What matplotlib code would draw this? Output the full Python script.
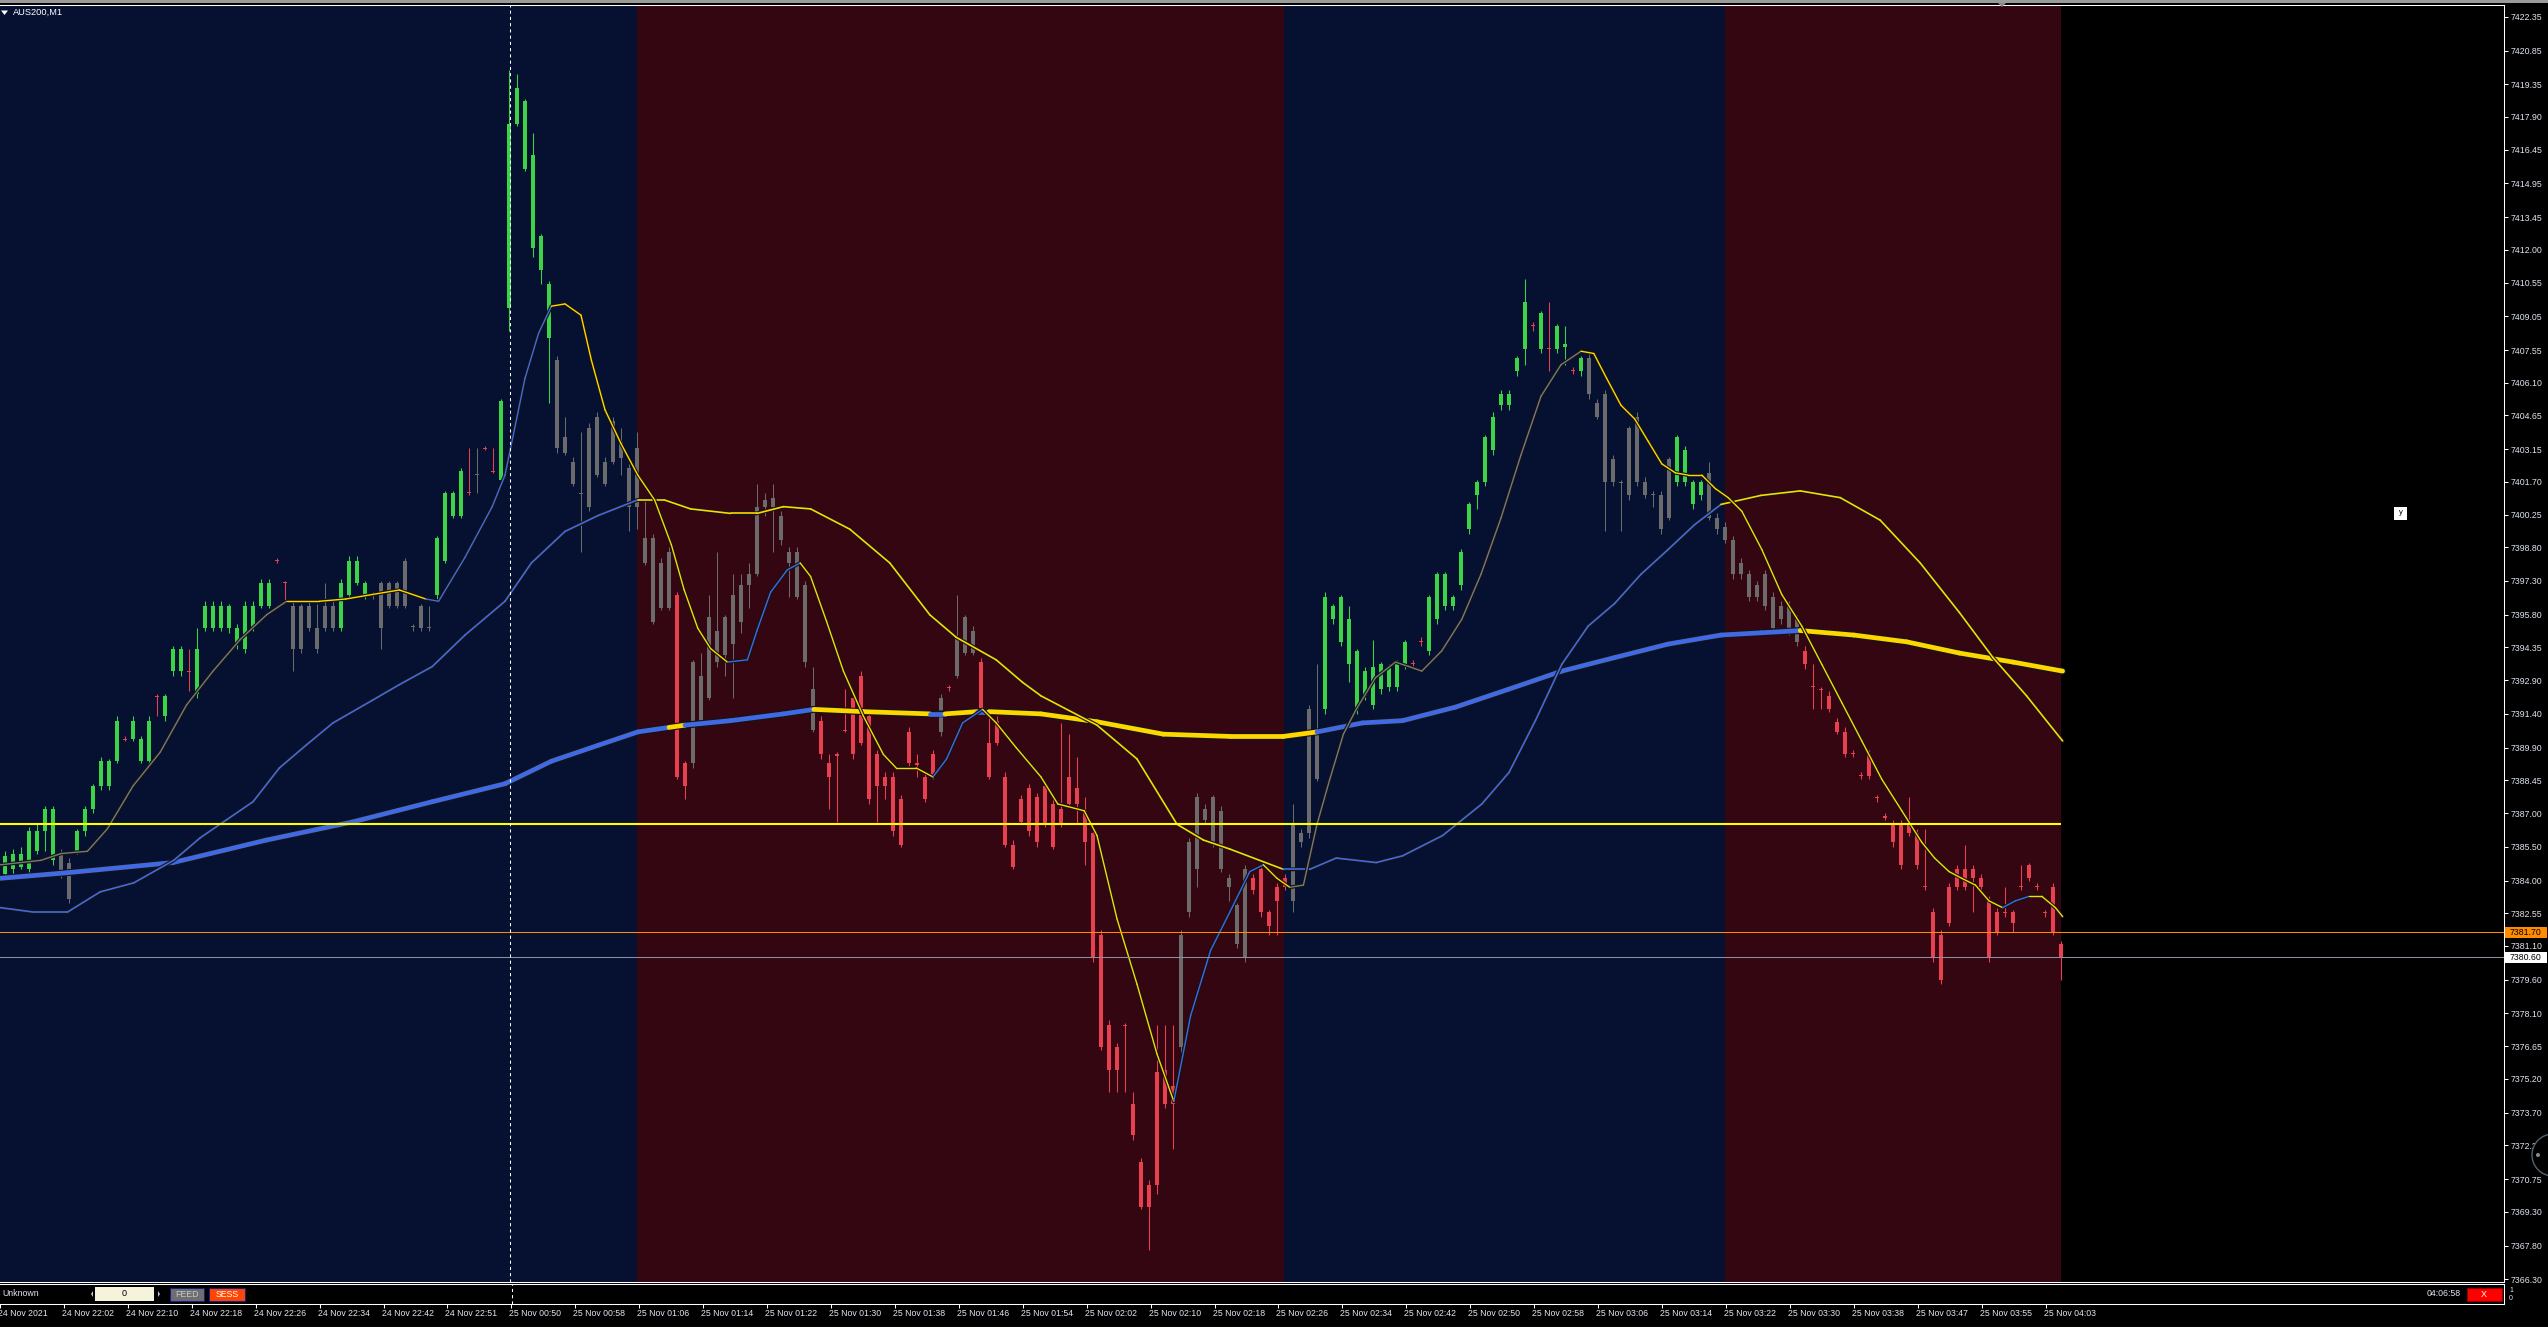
import numpy as np
import matplotlib
matplotlib.use("Agg")
import matplotlib.pyplot as plt
from matplotlib import transforms
from matplotlib.collections import LineCollection
from matplotlib.lines import Line2D
from matplotlib.patches import Rectangle, Polygon, Ellipse

plt.rcParams['font.family'] = ['Liberation Sans', 'DejaVu Sans']

# ---- AUS200 M1 candles (one per minute) ----
opens = [
    7384.4, 7384.3, 7384.5, 7384.6, 7384.5, 7385.3, 7386.2, 7384.9, 7385.2, 7384.8,
    7385.3, 7386.2, 7387.2, 7388.2, 7388.2, 7389.3, 7390.3, 7390.3, 7389.3, 7389.3,
    7392.2, 7391.3, 7393.3, 7393.3, 7393.3, 7392.3, 7395.2, 7395.2, 7395.2, 7395.2,
    7394.5, 7394.3, 7395.2, 7396.2, 7396.2, 7398.25, 7397.25, 7396.2, 7394.3, 7396.2,
    7395.2, 7395.2, 7396.2, 7395.2, 7396.7, 7397.2, 7396.7, 7396.7, 7397.2, 7396.2,
    7397.2, 7396.2, 7395.3, 7396.2, 7395.25, 7396.7, 7398.2, 7400.2, 7400.2, 7401.25,
    7402.05, 7403.2, 7402.2, 7401.8, 7409.4, 7417.6, 7415.6, 7412.1, 7411.1, 7408.1,
    7407.1, 7403.7, 7402.6, 7401.2, 7400.6, 7404.6, 7402.6, 7402.6, 7403.45, 7402.3,
    7400.6, 7399.2, 7399.2, 7398.1, 7396.1, 7396.7, 7389.2, 7389.2, 7393.1, 7392.1,
    7395.1, 7394.0, 7394.5, 7397.1, 7397.1, 7397.6, 7400.9, 7400.6, 7400.2, 7398.6,
    7398.6, 7397.1, 7392.5, 7391.1, 7389.2, 7389.6, 7390.7, 7392.1, 7393.1, 7391.3,
    7389.6, 7388.6, 7388.6, 7387.6, 7390.6, 7389.2, 7388.6, 7389.6, 7390.6, 7392.6,
    7393.1, 7394.1, 7395.1, 7393.7, 7390.1, 7391.1, 7388.6, 7385.6, 7387.6, 7388.1,
    7387.7, 7388.2, 7387.4, 7387.2, 7388.6, 7388.1, 7387.1, 7386.1, 7381.6, 7377.6,
    7376.6, 7377.6, 7374.1, 7371.5, 7370.5, 7370.5, 7375.6, 7374.9, 7376.6, 7382.6,
    7384.5, 7387.2, 7387.7, 7387.1, 7384.1, 7382.9, 7380.6, 7384.1, 7384.5, 7382.6,
    7383.7, 7384.1, 7383.1, 7386.1, 7386.1, 7390.5, 7391.6, 7395.6, 7394.6, 7393.6,
    7391.6, 7392.2, 7391.8, 7392.5, 7392.6, 7392.6, 7393.6, 7393.65, 7394.65, 7394.2,
    7395.6, 7396.2, 7396.2, 7397.1, 7399.6, 7401.1, 7401.7, 7403.1, 7405.1, 7405.1,
    7406.6, 7407.6, 7408.65, 7407.6, 7407.65, 7407.6, 7407.7, 7406.65, 7406.6, 7407.2,
    7405.2, 7405.6, 7402.7, 7401.7, 7401.1, 7404.6, 7401.7, 7401.15, 7401.1, 7400.1,
    7401.7, 7401.7, 7400.7, 7401.1, 7402.1, 7400.1, 7399.7, 7399.1, 7398.1, 7397.6,
    7397.1, 7397.6, 7396.6, 7396.2, 7396.2, 7395.6, 7394.2, 7392.65, 7392.5, 7392.2,
    7391.05, 7390.6, 7389.65, 7388.7, 7389.6, 7387.7, 7386.85, 7386.5, 7386.5, 7386.5,
    7386.1, 7383.75, 7382.6, 7381.6, 7383.7, 7384.5, 7384.5, 7384.5, 7384.1, 7383.1,
    7382.6, 7382.6, 7382.6, 7383.75, 7384.1, 7383.75, 7382.6, 7383.7, 7381.2]
highs = [
    7385.2, 7385.3, 7385.4, 7385.5, 7386.4, 7386.5, 7387.3, 7387.3, 7385.4, 7385.0,
    7386.3, 7387.3, 7388.3, 7389.5, 7389.4, 7391.3, 7390.4, 7391.3, 7390.4, 7391.3,
    7392.3, 7392.3, 7394.4, 7394.4, 7394.3, 7395.2, 7396.4, 7396.4, 7396.4, 7396.3,
    7395.4, 7396.4, 7396.4, 7397.4, 7397.4, 7398.3, 7397.3, 7396.4, 7396.3, 7396.4,
    7396.3, 7397.2, 7396.4, 7397.4, 7398.4, 7398.4, 7397.3, 7396.8, 7397.3, 7397.3,
    7397.3, 7398.3, 7395.4, 7396.3, 7396.2, 7399.3, 7401.3, 7401.3, 7402.3, 7403.2,
    7403.2, 7403.3, 7403.2, 7405.4, 7420.0, 7419.8, 7418.7, 7417.2, 7412.7, 7410.6,
    7407.3, 7404.6, 7402.8, 7403.9, 7404.3, 7404.8, 7402.8, 7404.6, 7404.1, 7402.5,
    7403.9, 7400.9, 7399.4, 7398.3, 7398.8, 7396.8, 7389.3, 7393.8, 7394.1, 7396.7,
    7398.6, 7395.8, 7397.6, 7397.6, 7398.1, 7401.6, 7401.2, 7401.6, 7400.4, 7398.8,
    7398.8, 7397.3, 7393.5, 7391.3, 7389.6, 7389.7, 7392.5, 7392.3, 7393.3, 7391.5,
    7389.8, 7388.8, 7388.8, 7387.8, 7390.8, 7389.6, 7388.8, 7389.8, 7392.3, 7392.7,
    7396.7, 7395.8, 7395.3, 7393.9, 7391.3, 7391.3, 7388.8, 7385.8, 7387.8, 7388.3,
    7387.9, 7388.4, 7387.6, 7391.0, 7390.5, 7389.5, 7387.7, 7386.3, 7381.8, 7377.8,
    7376.8, 7377.7, 7374.6, 7371.7, 7370.7, 7377.6, 7377.6, 7377.6, 7381.8, 7385.9,
    7387.9, 7387.4, 7387.8, 7387.3, 7384.3, 7383.0, 7384.7, 7384.3, 7384.7, 7382.7,
    7383.9, 7384.3, 7387.4, 7386.3, 7391.8, 7393.6, 7396.8, 7396.3, 7396.7, 7396.2,
    7394.3, 7393.5, 7394.7, 7393.7, 7393.6, 7393.8, 7394.7, 7393.8, 7394.8, 7396.7,
    7397.7, 7397.7, 7396.7, 7398.7, 7400.8, 7401.8, 7403.8, 7404.8, 7405.8, 7405.8,
    7407.3, 7410.7, 7408.8, 7409.3, 7409.7, 7408.7, 7408.6, 7406.8, 7407.3, 7407.4,
    7405.4, 7405.8, 7402.9, 7401.8, 7404.2, 7404.8, 7401.9, 7401.3, 7401.3, 7402.8,
    7403.8, 7403.3, 7401.8, 7401.8, 7402.6, 7400.3, 7399.9, 7399.3, 7398.3, 7397.8,
    7397.3, 7397.8, 7396.8, 7396.4, 7396.4, 7395.8, 7394.4, 7393.6, 7392.6, 7392.4,
    7391.2, 7390.8, 7389.8, 7388.8, 7389.8, 7387.8, 7387.0, 7386.7, 7386.7, 7387.7,
    7386.3, 7386.3, 7382.8, 7381.8, 7383.9, 7384.7, 7385.6, 7384.7, 7384.3, 7383.3,
    7382.8, 7383.7, 7382.7, 7384.7, 7384.8, 7383.9, 7382.7, 7383.9, 7381.3]
lows = [
    7384.2, 7384.2, 7384.3, 7384.5, 7384.3, 7385.2, 7385.3, 7384.7, 7384.1, 7383.0,
    7385.2, 7386.0, 7387.0, 7388.0, 7388.0, 7389.2, 7390.2, 7390.2, 7389.2, 7389.1,
    7391.3, 7391.1, 7393.1, 7393.1, 7392.4, 7392.1, 7395.1, 7395.1, 7395.1, 7395.0,
    7394.3, 7394.1, 7395.1, 7396.1, 7396.1, 7398.1, 7396.4, 7393.3, 7394.1, 7395.1,
    7394.1, 7395.1, 7395.1, 7395.1, 7396.5, 7397.1, 7396.5, 7396.5, 7394.3, 7396.1,
    7396.1, 7396.1, 7395.1, 7395.1, 7395.1, 7396.5, 7398.1, 7400.1, 7400.1, 7401.1,
    7401.2, 7403.1, 7402.1, 7401.6, 7408.4, 7417.5, 7415.5, 7411.7, 7410.5, 7405.2,
    7403.0, 7402.9, 7401.5, 7398.6, 7400.4, 7401.9, 7401.5, 7402.5, 7402.0, 7399.5,
    7399.6, 7398.0, 7395.4, 7396.0, 7396.0, 7388.5, 7387.6, 7389.0, 7391.0, 7392.0,
    7393.5, 7393.1, 7392.1, 7395.0, 7396.1, 7397.5, 7400.2, 7398.6, 7398.9, 7396.6,
    7396.5, 7393.5, 7390.6, 7389.4, 7387.2, 7386.6, 7390.6, 7389.4, 7390.0, 7387.4,
    7386.6, 7387.6, 7386.0, 7385.5, 7389.0, 7388.6, 7387.5, 7388.5, 7390.4, 7392.4,
    7393.0, 7394.0, 7394.0, 7391.4, 7388.5, 7390.0, 7385.5, 7384.5, 7386.5, 7386.0,
    7385.5, 7386.4, 7385.4, 7386.4, 7387.3, 7386.5, 7384.7, 7380.4, 7376.5, 7374.6,
    7374.6, 7374.6, 7372.5, 7369.4, 7367.6, 7370.1, 7373.9, 7372.1, 7376.4, 7382.4,
    7383.7, 7386.5, 7385.5, 7384.4, 7383.1, 7381.0, 7380.4, 7383.4, 7382.4, 7381.6,
    7381.6, 7383.6, 7382.6, 7385.5, 7385.9, 7388.4, 7391.4, 7395.4, 7394.4, 7392.8,
    7391.4, 7392.0, 7391.6, 7392.3, 7392.4, 7392.4, 7393.4, 7393.4, 7394.4, 7394.0,
    7395.4, 7396.0, 7396.0, 7396.9, 7399.4, 7400.5, 7401.5, 7402.9, 7404.9, 7404.9,
    7406.4, 7406.9, 7408.4, 7407.4, 7406.6, 7407.4, 7406.9, 7406.5, 7406.4, 7405.4,
    7404.5, 7399.5, 7401.5, 7399.5, 7400.9, 7401.5, 7401.0, 7400.6, 7399.4, 7400.0,
    7401.5, 7401.5, 7400.5, 7400.9, 7400.0, 7399.4, 7399.0, 7397.4, 7397.4, 7396.4,
    7396.4, 7396.0, 7395.0, 7395.4, 7394.9, 7394.4, 7393.4, 7391.6, 7391.6, 7391.5,
    7390.5, 7389.5, 7389.5, 7388.5, 7388.5, 7387.5, 7386.7, 7385.5, 7384.5, 7386.0,
    7384.5, 7383.6, 7380.4, 7379.4, 7382.0, 7383.6, 7383.6, 7382.6, 7383.6, 7380.4,
    7381.6, 7382.4, 7381.7, 7383.6, 7384.0, 7383.6, 7382.4, 7381.6, 7379.6]
closes = [
    7385.0, 7385.1, 7385.2, 7385.2, 7386.2, 7386.2, 7387.2, 7387.2, 7384.3, 7383.2,
    7386.2, 7387.2, 7388.2, 7389.3, 7389.3, 7391.1, 7390.25, 7391.1, 7390.3, 7391.1,
    7392.15, 7392.2, 7394.3, 7394.3, 7393.25, 7394.3, 7396.2, 7396.2, 7396.2, 7396.2,
    7395.2, 7396.2, 7396.2, 7397.2, 7397.2, 7398.2, 7397.2, 7394.3, 7396.2, 7395.2,
    7394.3, 7396.2, 7395.2, 7397.2, 7398.2, 7398.2, 7397.2, 7396.65, 7395.2, 7397.2,
    7396.2, 7398.2, 7395.25, 7395.2, 7395.2, 7399.2, 7401.2, 7401.2, 7402.2, 7401.2,
    7402.0, 7403.15, 7402.15, 7405.3, 7417.6, 7419.2, 7418.6, 7416.2, 7412.6, 7410.5,
    7403.2, 7403.0, 7401.6, 7401.15, 7404.1, 7402.0, 7401.6, 7404.4, 7402.75, 7400.6,
    7403.2, 7398.1, 7395.5, 7396.1, 7398.6, 7388.6, 7388.2, 7393.7, 7391.1, 7395.7,
    7393.7, 7395.7, 7396.7, 7395.5, 7397.6, 7400.6, 7400.6, 7401.0, 7399.1, 7398.1,
    7396.6, 7393.7, 7390.7, 7389.6, 7388.6, 7389.55, 7390.65, 7389.6, 7390.1, 7387.6,
    7388.2, 7388.2, 7386.2, 7385.6, 7389.2, 7389.15, 7387.6, 7388.6, 7392.1, 7392.55,
    7394.8, 7395.7, 7394.1, 7391.6, 7388.6, 7390.1, 7385.6, 7384.6, 7386.6, 7386.2,
    7385.7, 7386.5, 7385.5, 7386.5, 7387.4, 7387.4, 7385.7, 7380.6, 7376.6, 7375.6,
    7375.6, 7377.55, 7372.7, 7369.5, 7369.5, 7375.5, 7374.1, 7374.1, 7381.6, 7385.7,
    7387.7, 7386.7, 7385.7, 7384.5, 7383.7, 7381.2, 7384.5, 7383.6, 7382.6, 7382.0,
    7383.1, 7383.7, 7386.5, 7385.7, 7391.6, 7388.5, 7396.6, 7396.2, 7396.6, 7395.6,
    7394.2, 7393.3, 7393.5, 7393.6, 7393.5, 7393.6, 7394.6, 7393.6, 7394.6, 7396.6,
    7397.6, 7397.6, 7396.6, 7398.6, 7400.7, 7401.7, 7403.7, 7404.6, 7405.6, 7405.6,
    7407.2, 7409.7, 7408.6, 7409.2, 7407.6, 7408.6, 7407.8, 7406.6, 7407.2, 7405.6,
    7404.6, 7401.7, 7401.7, 7401.65, 7404.1, 7401.7, 7401.1, 7401.1, 7399.6, 7402.7,
    7403.7, 7403.1, 7401.7, 7401.7, 7400.1, 7399.6, 7399.1, 7397.6, 7397.6, 7396.6,
    7396.6, 7396.2, 7395.2, 7395.6, 7395.0, 7394.6, 7393.6, 7392.6, 7392.45, 7391.6,
    7390.6, 7389.6, 7389.6, 7388.65, 7388.65, 7387.65, 7386.8, 7385.7, 7384.7, 7386.1,
    7384.7, 7383.7, 7380.6, 7379.6, 7382.1, 7383.7, 7383.7, 7384.1, 7383.7, 7380.6,
    7381.7, 7382.55, 7382.1, 7383.7, 7384.7, 7383.7, 7382.55, 7381.7, 7380.6]

# candle colour state: g = bull filter, r = bear filter, n = neutral
candle_color_runs = [
    ('g', 8), ('n', 2), ('g', 6), ('r', 1), ('g', 3), ('r', 1), ('g', 3), ('r', 1),
    ('g', 10), ('r', 2), ('n', 6), ('g', 4), ('n', 8), ('g', 4), ('r', 1), ('n', 1),
    ('r', 2), ('g', 7), ('n', 15), ('r', 2), ('n', 16), ('r', 15), ('n', 1), ('r', 1),
    ('n', 3), ('r', 25), ('n', 9), ('r', 5), ('n', 4), ('g', 11), ('r', 2), ('g', 13),
    ('r', 1), ('g', 1), ('r', 1), ('g', 2), ('r', 1), ('g', 1), ('n', 11), ('g', 4),
    ('n', 12), ('r', 33)]

# ---- moving averages (read at sample bars) ----
fast_x = [0.4, 5.5, 8, 11.3, 13.8, 17, 20.4, 23.7, 27, 30.4, 33.7,
          36.2, 40.3, 43.6, 46.9, 50.3,
          53.6, 55.2, 58.5, 61.9, 63.5, 66, 67.7,
          69.3, 71, 73, 74.3, 76, 78, 80.1, 82.2, 84.3, 85.9, 87.6, 89.2,
          91.3, 93.8, 95, 96.7, 98.8,
          100.4, 101.7, 103.7, 105.8, 108.3, 110.8, 112.4, 114.9,
          117, 118.7, 120.7,
          123.2, 124.9, 127.4, 130.5, 132.6, 135.9, 137.5, 140, 142.5, 145,
          147.1, 149.2, 151.7, 154.1, 156.6,
          158.3, 160,
          161.6, 163.3, 165, 166.6, 168.3, 169.9, 172.3, 174.8, 176.5, 178.1,
          180.6, 183.1, 185.5, 188, 190.5, 193, 195.5,
          198, 199.6, 201.2, 203, 204.7, 206.4, 208.1, 209.8, 211.4, 213.1,
          214.8, 216.4, 218.1, 220.6, 223.1, 225.6, 228.1, 230.6, 233.1, 235.6,
          238.1, 240.6, 242.2, 244, 245.6, 247.3, 249,
          250.7, 252.3,
          254, 255.6, 257.3, 258.2]
fast_y = [7384.7, 7384.9, 7385.2, 7385.3, 7386.3, 7388.2, 7389.7, 7391.8, 7393.3, 7394.7, 7395.8,
          7396.4, 7396.4, 7396.5, 7396.7, 7396.9,
          7396.5, 7396.4, 7398.35, 7400.6, 7402.0, 7406.3, 7408.3,
          7409.5, 7409.6, 7409.1, 7407.1, 7404.9, 7403.4, 7402.0, 7400.9, 7398.9, 7396.9, 7395.2, 7394.3,
          7393.7, 7393.8, 7395.1, 7396.8, 7397.8,
          7398.1, 7397.5, 7395.5, 7393.3, 7391.3, 7389.6, 7389.0, 7389.0,
          7388.6, 7389.4, 7391.0,
          7391.6, 7391.0, 7389.9, 7388.6, 7387.4, 7387.1, 7386.0, 7382.3, 7379.4, 7376.3,
          7374.2, 7378.0, 7380.9, 7382.6, 7384.4,
          7384.7, 7384.1,
          7383.7, 7383.8, 7386.5, 7388.5, 7390.5, 7391.6, 7393.0, 7393.7, 7393.5, 7393.3,
          7394.2, 7395.6, 7397.6, 7400.1, 7402.9, 7405.5, 7406.9,
          7407.5, 7407.4, 7406.3, 7405.1, 7404.5, 7403.5, 7402.5, 7402.1, 7402.0, 7402.0,
          7401.4, 7401.0, 7400.4, 7398.7, 7396.7, 7395.3, 7393.6, 7391.9, 7390.2, 7388.5,
          7387.1, 7385.7, 7385.0, 7384.4, 7384.1, 7383.8, 7383.1,
          7382.8, 7383.1,
          7383.3, 7383.3, 7382.8, 7382.4]
fast_color_runs = [('n', 11), ('y', 5), ('b', 7), ('y', 12), ('b', 5), ('y', 8), ('b', 3),
                   ('y', 10), ('b', 5), ('y', 2), ('n', 17), ('y', 27), ('b', 2), ('y', 4)]

mid_x = [0.4, 4.6, 8.8, 12.9, 17.1, 22.1, 25.4, 28.7, 32, 35.3, 38.6, 42, 46.9, 50.3,
         54.4, 58.5, 63.5, 66.8, 71, 75.1,
         80.1, 83.4, 86.7, 91.7, 95, 98.3, 101.7, 106.6, 111.6, 116.6, 119.9, 124.9,
         128.2, 130.5, 137.5, 142.5, 147.5, 150.8, 154.1,
         160.8, 164.1, 167.4, 172.4, 175.7, 180.7, 185.6, 189, 192.3, 195.6, 198.9,
         202.2, 205.5, 208.9, 212.2,
         215.5, 220.5, 225.4, 230.4, 235.4, 240.4, 245.3, 249.5, 253.7, 258.2]
mid_y = [7382.8, 7382.6, 7382.6, 7383.5, 7383.9, 7384.9, 7385.9, 7386.7, 7387.5, 7389.0,
         7390.0, 7391.0, 7392.0, 7392.7, 7393.5, 7394.9, 7396.4, 7398.1, 7399.5, 7400.2,
         7400.9, 7400.9, 7400.5, 7400.3, 7400.3, 7400.6, 7400.5, 7399.6, 7398.1, 7395.8,
         7394.8, 7393.8, 7392.8, 7392.2, 7390.9, 7389.4, 7386.5, 7385.8, 7385.4,
         7384.5, 7384.5, 7385.0, 7384.8, 7385.1, 7386.0, 7387.4, 7388.8, 7391.1, 7393.6,
         7395.3, 7396.3, 7397.6, 7398.7, 7399.8,
         7400.7, 7401.1, 7401.3, 7401.0, 7400.0, 7398.1, 7395.9, 7393.9, 7392.2, 7390.2]
mid_color_runs = [('b', 20), ('y', 19), ('b', 15), ('y', 10)]

slow_x = [0.4, 8.8, 22, 33.7, 44.4, 54.4, 63.5, 69.3, 75.1, 80.1,
          84, 86, 91.7, 98.3, 102.1, 108.3, 116.6, 118.5, 122.5,
          124, 130.5, 137.5, 145.8, 154.1, 160.8,
          165, 170.7, 175.7, 182.3, 189, 195.6, 202.2, 208.9, 215.5, 220.5,
          225.4, 232.1, 238.7, 245.3, 252, 258.2]
slow_y = [7384.1, 7384.35, 7384.8, 7385.8, 7386.6, 7387.5, 7388.3, 7389.3, 7390.0, 7390.6,
          7390.8, 7390.9, 7391.1, 7391.4, 7391.6, 7391.5, 7391.4, 7391.4, 7391.5,
          7391.5, 7391.4, 7391.05, 7390.5, 7390.4, 7390.4,
          7390.6, 7391.0, 7391.1, 7391.7, 7392.5, 7393.3, 7393.9, 7394.5, 7394.9, 7395.0,
          7395.1, 7394.9, 7394.6, 7394.1, 7393.7, 7393.3]
slow_color_runs = [('b', 10), ('y', 1), ('b', 3), ('y', 2), ('b', 1), ('y', 1), ('b', 1),
                   ('y', 6), ('b', 10), ('y', 6)]

# ---- levels, sessions, axis text ----
level_yellow = 7386.53
bid_price = 7381.70
ask_price = 7380.60
session_start = [0.375, 80.0, 160.9, 216.0]
session_end = [80.0, 160.9, 216.0, 258.0]
session_type = ['asia', 'london', 'asia', 'london']
marker_bar = 64.1

ytick_labels = ['7422.35', '7420.85', '7419.35', '7417.90', '7416.45', '7414.95', '7413.45',
                '7412.00', '7410.55', '7409.05', '7407.55', '7406.10', '7404.65', '7403.15',
                '7401.70', '7400.25', '7398.80', '7397.30', '7395.80', '7394.35', '7392.90',
                '7391.40', '7389.90', '7388.45', '7387.00', '7385.50', '7384.00', '7382.55',
                '7381.10', '7379.60', '7378.10', '7376.65', '7375.20', '7373.70', '7372.25',
                '7370.75', '7369.30', '7367.80', '7366.30']
xtick_labels = ['24 Nov 2021', '24 Nov 22:02', '24 Nov 22:10', '24 Nov 22:18', '24 Nov 22:26',
                '24 Nov 22:34', '24 Nov 22:42', '24 Nov 22:51', '25 Nov 00:50', '25 Nov 00:58',
                '25 Nov 01:06', '25 Nov 01:14', '25 Nov 01:22', '25 Nov 01:30', '25 Nov 01:38',
                '25 Nov 01:46', '25 Nov 01:54', '25 Nov 02:02', '25 Nov 02:10', '25 Nov 02:18',
                '25 Nov 02:26', '25 Nov 02:34', '25 Nov 02:42', '25 Nov 02:50', '25 Nov 02:58',
                '25 Nov 03:06', '25 Nov 03:14', '25 Nov 03:22', '25 Nov 03:30', '25 Nov 03:38',
                '25 Nov 03:47', '25 Nov 03:55', '25 Nov 04:03']
xtick_bars = list(range(0, 8 * len(xtick_labels), 8))

# ---- colours ----
sess_col = {'asia': '#061132', 'london': '#340612'}
candle_col = {'g': '#3cd447', 'r': '#e8404e', 'n': '#6b6b6b'}
line_col = {'y': '#ffd700', 'b': '#4169e1', 'n': '#787878'}
txt_col = '#dfe5ef'

W, H = 2548, 1328
fig = plt.figure(figsize=(W / 100, H / 100), dpi=100, facecolor='black')


def fx(x):
    return x / W


def fy(y):
    return 1 - y / H


ax = fig.add_axes([0, fy(1282), fx(2504), (1282 - 5) / H])
ax.set_facecolor('black')

for a, b, s in zip(session_start, session_end, session_type):
    ax.axvspan(a, b, color=sess_col[s], lw=0, zorder=0)

o = np.array(opens)
h = np.array(highs)
l = np.array(lows)
c = np.array(closes)
codes = ''.join(k * m for k, m in candle_color_runs)
n = min(len(o), len(h), len(l), len(c), len(codes))
idx = np.arange(n)
cols = [candle_col[k] for k in codes[:n]]
top = np.maximum(o[:n], c[:n])
bot = np.minimum(o[:n], c[:n])
ax.vlines(idx, l[:n], h[:n], colors=cols, lw=0.75, zorder=2)
ax.bar(idx, np.maximum(top - bot, 0.05), bottom=bot, width=0.62, color=cols,
       lw=0, zorder=2.2)


def ma_line(xs, ys, runs, lw, z):
    xs = np.asarray(xs, float)
    ys = np.asarray(ys, float)
    m = min(len(xs), len(ys))
    xs, ys = xs[:m], ys[:m]
    cc = ''.join(k * q for k, q in runs)
    cc = (cc + cc[-1] * m)[:m]
    ax.plot(xs, ys, color='#141414', lw=lw + 1.6, zorder=z, solid_capstyle='round',
            solid_joinstyle='round')
    segs = [[(xs[k], ys[k]), (xs[k + 1], ys[k + 1])] for k in range(m - 1)]
    lc = LineCollection(segs, colors=[line_col[cc[k]] for k in range(m - 1)],
                        linewidths=lw, zorder=z + 0.1, capstyle='round')
    ax.add_collection(lc)


ma_line(slow_x, slow_y, slow_color_runs, 3.4, 3.0)
ma_line(mid_x, mid_y, mid_color_runs, 1.2, 3.3)
ma_line(fast_x, fast_y, fast_color_runs, 1.0, 3.6)

ax.hlines(level_yellow, session_start[0], session_end[-1], color='#ffff00', lw=1.5, zorder=4.5)
ax.axhline(bid_price, color='#ff8c00', lw=0.75, zorder=4.4)
ax.axhline(ask_price, color='#8a90a0', lw=0.75, zorder=4.4)
ax.axvline(marker_bar, color='white', lw=0.75, ls=(0, (3, 3)), zorder=6)

ax.set_xlim(0.375, 313.375)
ax.set_ylim(7366.18, 7422.87)
ax.set_xticks([])
ax.yaxis.tick_right()
ax.set_yticks([float(v) for v in ytick_labels])
ax.set_yticklabels(ytick_labels)
ax.tick_params(axis='y', direction='out', length=2.9, width=0.75, color='white',
               labelcolor=txt_col, labelsize=6.3, pad=1.5)
ax.spines['left'].set_visible(False)
for sp in ['top', 'right', 'bottom']:
    ax.spines[sp].set_color('white')
    ax.spines[sp].set_linewidth(0.75)

# price boxes on the scale
ty = transforms.blended_transform_factory(ax.transAxes, ax.transData)
for price, fc in [(bid_price, '#ff8c00'), (ask_price, '#ffffff')]:
    ax.add_artist(Rectangle((1.0003, price - 5.5 / 22.53), 42 / 2504, 11 / 22.53,
                            transform=ty, fc=fc, ec='none', clip_on=False, zorder=7))
    ax.text(1 + 6 / 2504, price, '%.2f' % price, transform=ty, color='black', fontsize=6.3,
            va='center', ha='left', clip_on=False, zorder=8)

# ---- status bar + time scale ----
sb = fig.add_axes([0, fy(1304), fx(2504), 20 / H])
sb.set_facecolor('black')
sb.set_xlim(0.375, 313.375)
sb.set_ylim(0, 1)
sb.set_yticks([])
sb.set_xticks(xtick_bars)
sb.set_xticklabels([])
sb.tick_params(axis='x', direction='out', length=2.9, width=0.75, color='white')
sb.spines['left'].set_visible(False)
for sp in ['top', 'right', 'bottom']:
    sb.spines[sp].set_color('white')
    sb.spines[sp].set_linewidth(0.75)
sb.axvline(marker_bar, color='white', lw=0.75, ls=(0, (3, 3)))
tx = transforms.offset_copy(transforms.blended_transform_factory(sb.transData, sb.transAxes),
                            fig=fig, x=-2, y=0, units='dots')
for b, s in zip(xtick_bars, xtick_labels):
    sb.text(b, -0.48, s, transform=tx, ha='left', va='center', fontsize=6.3, color=txt_col,
            clip_on=False)


def box(x0, y0, x1, y1, fc, ec='none', lw=0.75):
    fig.add_artist(Rectangle((fx(x0), fy(y1)), (x1 - x0) / W, (y1 - y0) / H,
                             transform=fig.transFigure, fc=fc, ec=ec, lw=lw))


def ftext(x, y, s, **kw):
    fig.text(fx(x), fy(y), s, **kw)


ftext(2, 1294, 'Unknown', fontsize=6.3, color=txt_col, va='center', ha='left')
box(95, 1287, 154, 1301, '#f5f3dc')
ftext(124, 1294, '0', fontsize=6.5, color='black', va='center', ha='center')
fig.add_artist(Polygon([(fx(91), fy(1294)), (fx(93), fy(1291)), (fx(93), fy(1297))],
                       closed=True, transform=fig.transFigure, fc='#c8c8c8', ec='none'))
fig.add_artist(Polygon([(fx(160), fy(1294)), (fx(158), fy(1291)), (fx(158), fy(1297))],
                       closed=True, transform=fig.transFigure, fc='#c8c8c8', ec='none'))
box(170, 1288, 204, 1301, '#6e6e6e', '#1a1a8a')
ftext(187, 1294.5, 'FEED', fontsize=6.3, color='#c8c8c8', va='center', ha='center')
box(209, 1288, 245, 1301, '#ff4500', '#1a1a8a')
ftext(227, 1294.5, 'SESS', fontsize=6.3, color='white', va='center', ha='center')
ftext(2461, 1294, '04:06:58', fontsize=6.3, color=txt_col, va='center', ha='right')
box(2467, 1288, 2502, 1301, '#ff0000', '#900000')
ftext(2484, 1294.5, 'X', fontsize=6.5, color='white', va='center', ha='center')
ftext(2509, 1290, '1', fontsize=5, color=txt_col, va='center', ha='left')
ftext(2509, 1298, '0', fontsize=5, color=txt_col, va='center', ha='left')

# frame lines, header and small widgets
box(0, 0, W, 3, '#9a9a9a')
fig.add_artist(Line2D([0, 1], [fy(1326.5)] * 2, transform=fig.transFigure, color='white',
                      lw=0.75))
fig.add_artist(Polygon([(fx(1), fy(10.5)), (fx(8), fy(10.5)), (fx(4.5), fy(15))], closed=True,
                       transform=fig.transFigure, fc='white', ec='none'))
ftext(13, 12.7, 'AUS200,M1', fontsize=6.7, color='white', va='center', ha='left')
fig.add_artist(Polygon([(fx(1998), fy(3)), (fx(2006), fy(3)), (fx(2002), fy(7))], closed=True,
                       transform=fig.transFigure, fc='#8a8a8a', ec='none'))
box(2394, 507, 2407, 520, 'white')
ftext(2400.5, 513, 'y', fontsize=5.5, color='black', va='center', ha='center')
fig.add_artist(Ellipse((fx(2553), fy(1155)), 42 / W, 42 / H, transform=fig.transFigure,
                       fc='black', ec='#50646e', lw=1.0))
fig.add_artist(Ellipse((fx(2538), fy(1155)), 4 / W, 4 / H, transform=fig.transFigure,
                       fc='#8a8a8a', ec='none'))

fig.savefig('out.png', dpi=100, facecolor='black')
